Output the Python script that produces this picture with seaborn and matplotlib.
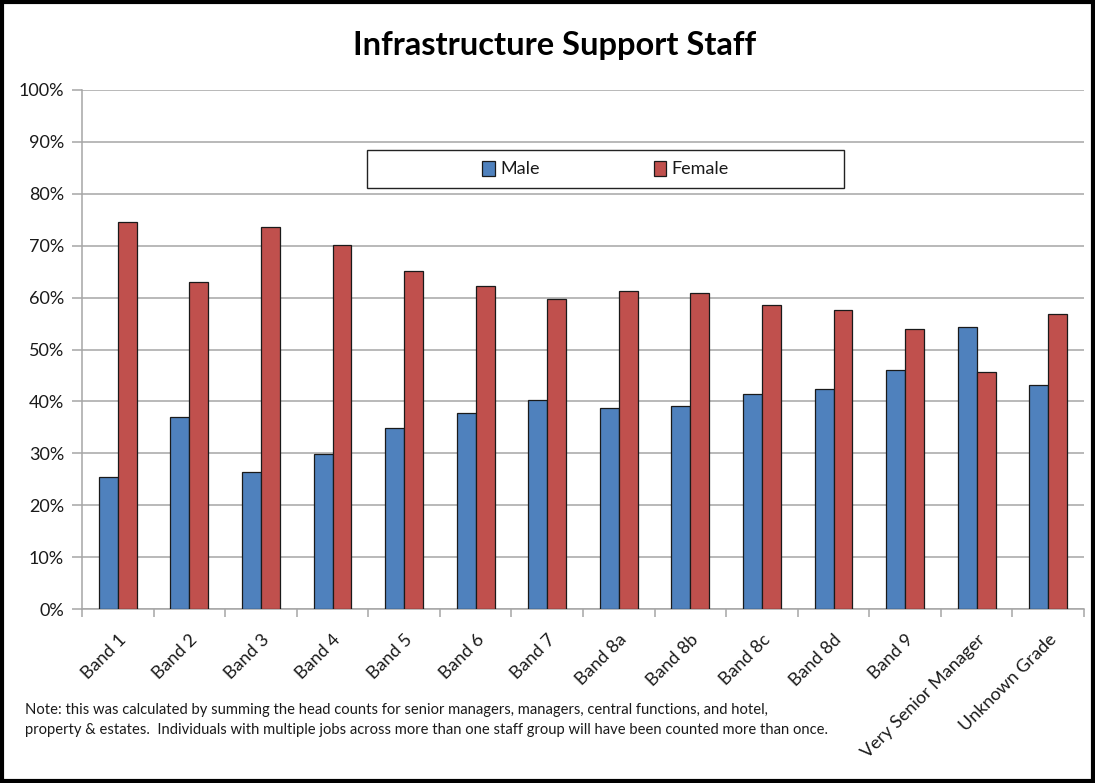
import matplotlib
matplotlib.use("Agg")
import matplotlib.pyplot as plt
from matplotlib.patches import Rectangle
from matplotlib.ticker import FixedLocator, PercentFormatter
import seaborn as sns
import pandas as pd

bands = ["Band 1", "Band 2", "Band 3", "Band 4", "Band 5", "Band 6", "Band 7",
         "Band 8a", "Band 8b", "Band 8c", "Band 8d", "Band 9",
         "Very Senior Manager", "Unknown Grade"]
male = [25.4, 37.0, 26.4, 29.9, 34.9, 37.7, 40.3, 38.7, 39.2, 41.5, 42.4, 46.1, 54.4, 43.2]
female = [74.6, 63.0, 73.6, 70.1, 65.1, 62.3, 59.7, 61.3, 60.8, 58.5, 57.6, 53.9, 45.6, 56.8]
series = ["Male", "Female"]
colors = ["#4F81BD", "#C0504D"]

df = pd.DataFrame({
    "grade": bands * 2,
    "share": male + female,
    "sex": ["Male"] * len(bands) + ["Female"] * len(bands),
})

sns.set_theme(style="white")
plt.rcParams["font.family"] = ["Lato", "DejaVu Sans"]

W, H = 1095, 783
fig = plt.figure(figsize=(W / 100, H / 100), dpi=100)
ax = fig.add_axes([82 / W, 174 / H, 1002 / W, 519 / H])

sns.barplot(data=df, x="grade", y="share", hue="sex", hue_order=series,
            palette=colors, saturation=1, width=0.53, edgecolor="#1a1a1a",
            linewidth=0.9, ax=ax, legend=True, zorder=3)

ax.set_xlim(-0.5, len(bands) - 0.5)
ax.set_ylim(0, 100)
ax.set_xlabel("")
ax.set_ylabel("")
ax.yaxis.set_major_locator(FixedLocator(range(0, 101, 10)))
ax.yaxis.set_major_formatter(PercentFormatter(decimals=0))
ax.grid(axis="y", color="#a6a6a6", linewidth=1.1, zorder=0)
ax.set_axisbelow(True)

for side in ("top", "right"):
    ax.spines[side].set_visible(False)
for side in ("left", "bottom"):
    ax.spines[side].set_color("#a6a6a6")
    ax.spines[side].set_linewidth(1.1)

ax.tick_params(axis="y", which="major", left=True, length=7, width=1.1,
               color="#a6a6a6", labelsize=13, labelcolor="#1a1a1a", pad=6)
ax.set_xticks(range(len(bands)))
ax.set_xticklabels(bands, rotation=45, ha="right", rotation_mode="anchor",
                   fontsize=13, color="#1a1a1a")
ax.tick_params(axis="x", which="major", bottom=False, pad=10)
ax.xaxis.set_minor_locator(FixedLocator([i - 0.5 for i in range(len(bands) + 1)]))
ax.tick_params(axis="x", which="minor", bottom=True, length=6, width=1.1,
               color="#a6a6a6")

# legend entries centred inside a wide white box
handles, labels = ax.get_legend_handles_labels()
ax.get_legend().remove()
box_x0, box_y0, box_x1, box_y1 = 367, 150, 844, 188
fig.patches.append(Rectangle((box_x0 / W, 1 - box_y1 / H),
                             (box_x1 - box_x0) / W, (box_y1 - box_y0) / H,
                             transform=fig.transFigure, facecolor="white",
                             edgecolor="#222222", linewidth=1.0, zorder=5))
leg = fig.legend(handles, labels, loc="center",
                 bbox_to_anchor=((box_x0 + box_x1) / 2 / W, 1 - (box_y0 + box_y1) / 2 / H),
                 ncol=2, frameon=False,
                 fontsize=13, handlelength=0.7, handleheight=0.9,
                 handletextpad=0.3, columnspacing=6.3)
leg.set_zorder(6)
for txt in leg.get_texts():
    txt.set_color("#1a1a1a")
for h in leg.legend_handles:
    h.set_edgecolor("#1a1a1a")
    h.set_linewidth(0.9)

fig.text(555 / W, 1 - 46 / H, "Infrastructure Support Staff", ha="center",
         va="center", fontsize=23.5, fontweight="bold", color="black")

fig.text(25 / W, 1 - 720 / H,
         "Note: this was calculated by summing the head counts for senior managers, "
         "managers, central functions, and hotel,\n"
         "property & estates.  Individuals with multiple jobs across more than one "
         "staff group will have been counted more than once.",
         ha="left", va="center", fontsize=10.6, color="#1a1a1a", linespacing=1.5)

fig.patches.append(Rectangle((0.002, 0.003), 0.996, 0.994, transform=fig.transFigure,
                             fill=False, edgecolor="black", linewidth=3))

fig.savefig("out.png", dpi=100)
